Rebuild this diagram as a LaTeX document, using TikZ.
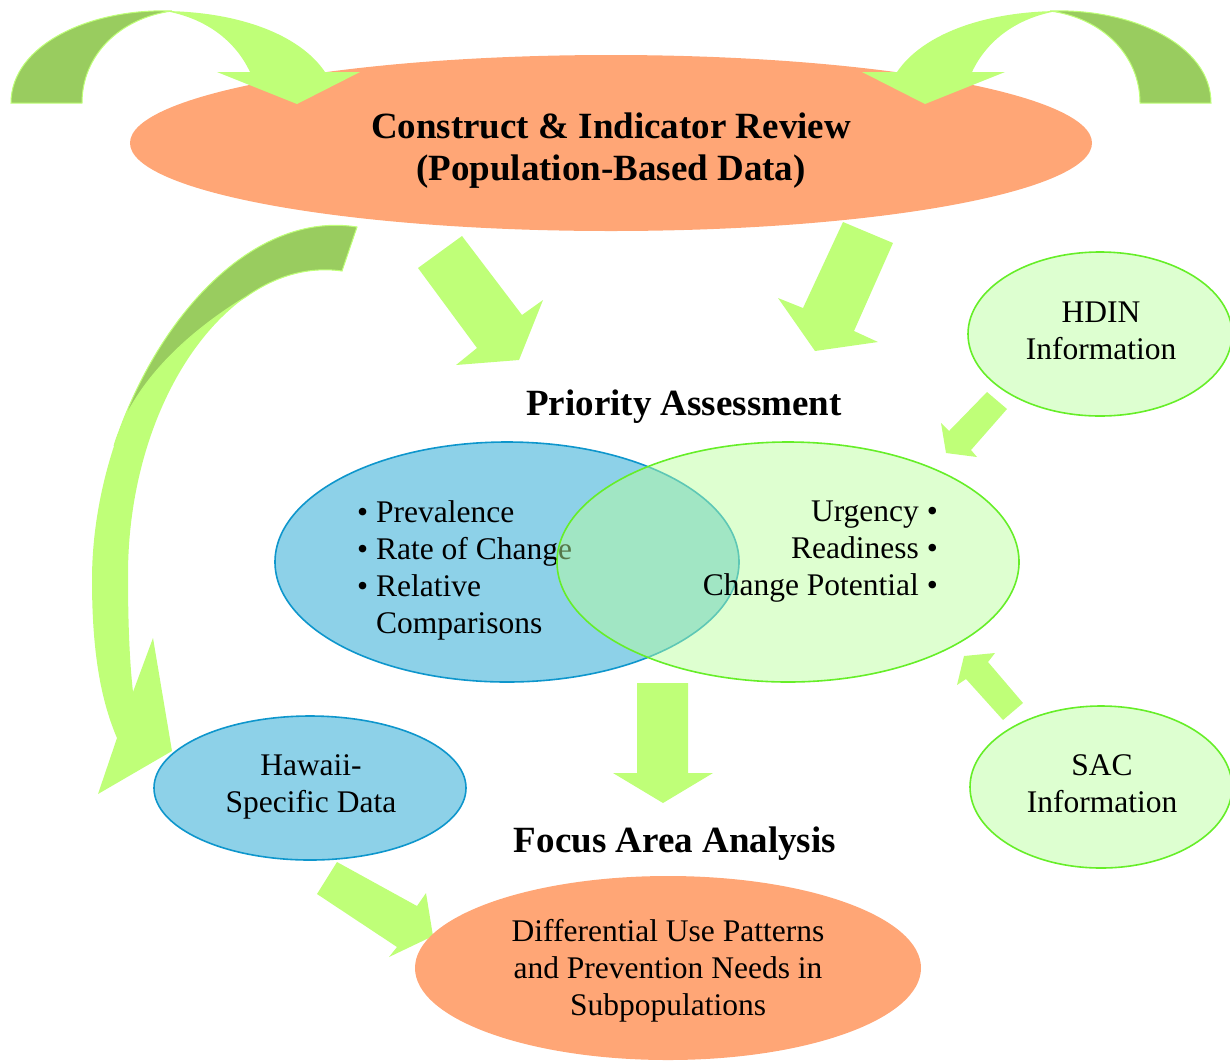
\documentclass[tikz,border=0pt]{standalone}
\usepackage{fontspec}
\setmainfont{Liberation Serif}
\usetikzlibrary{shapes.geometric}

\definecolor{peach}{RGB}{255,166,118}
\definecolor{leaf}{RGB}{191,255,120}
\definecolor{leafdark}{RGB}{153,204,95}
\definecolor{sky}{RGB}{141,209,232}
\definecolor{skyline}{RGB}{14,150,204}
\definecolor{mint}{RGB}{221,255,208}
\definecolor{mintfill}{RGB}{184,255,156}
\definecolor{mintline}{RGB}{102,238,40}

\begin{document}
\begin{tikzpicture}[x=1pt,y=-1pt,
  oval/.style={ellipse, inner sep=0pt, outer sep=0pt},
  peachoval/.style={oval, fill=peach},
  skyoval/.style={oval, fill=sky, draw=skyline, line width=1.6pt},
  mintoval/.style={oval, fill=mint, draw=mintline, line width=1.6pt},
  body/.style={font=\fontsize{31.5}{37}\selectfont, align=center, inner sep=0pt},
  headline/.style={font=\fontsize{37}{42}\selectfont\bfseries, align=center, inner sep=0pt},
  blockarrow/.style={fill=leaf},
  foldarrow/.style={fill=leafdark, draw=leaf, line width=1pt},
]
\useasboundingbox (0,0) rectangle (1230,1061);

% ---- top review ellipse
\node[peachoval, minimum width=962pt, minimum height=176pt] (review) at (611,143) {};

% ---- curved feedback arrow, upper left
\begin{scope}
  \fill[blockarrow] (165,11) .. controls (240,12) and (300,35) .. (325,72)
    -- (360,72) -- (297,104) -- (217,72) -- (250,72)
    .. controls (235,40) and (205,18) .. (165,11) -- cycle;
  \filldraw[foldarrow] (11,103) .. controls (11,45) and (90,8) .. (172,11)
    .. controls (120,18) and (82,55) .. (82,103) -- cycle;
\end{scope}
% ---- curved feedback arrow, upper right (mirror image)
\begin{scope}[shift={(1222,0)}, xscale=-1]
  \fill[blockarrow] (165,11) .. controls (240,12) and (300,35) .. (325,72)
    -- (360,72) -- (297,104) -- (217,72) -- (250,72)
    .. controls (235,40) and (205,18) .. (165,11) -- cycle;
  \filldraw[foldarrow] (11,103) .. controls (11,45) and (90,8) .. (172,11)
    .. controls (120,18) and (82,55) .. (82,103) -- cycle;
\end{scope}

\node[headline] (reviewtext) at (611,151) {Construct \& Indicator Review\\(Population-Based Data)};

% ---- straight arrows from the review down to the assessment
\fill[blockarrow] (418,268) -- (462,236) -- (522,315) -- (543,300) -- (519,360) -- (456,365) -- (477,348) -- cycle;
\fill[blockarrow] (843,222) -- (893,243) -- (854,331) -- (878,342) -- (815,351) -- (778,298) -- (803,308) -- cycle;

% ---- priority assessment
\node[headline] (priority) at (684,407) {Priority Assessment};

\node[skyoval, minimum width=464pt, minimum height=240pt] (measures) at (507,562) {};
\node[body, align=left, anchor=west] (measurelist) at (357,570)
  {\textbullet\ Prevalence\\\textbullet\ Rate of Change\\\textbullet\ Relative\\\hphantom{\textbullet\ }Comparisons};

\node[oval, fill=mintfill, fill opacity=0.47, draw=mintline, draw opacity=1, line width=1.6pt,
      minimum width=462pt, minimum height=240pt] (readiness) at (788,562) {};
\node[body, align=right, anchor=east] (readinesslist) at (938,552)
  {Urgency \textbullet\\Readiness \textbullet\\Change Potential \textbullet};

% ---- side information sources
\node[mintoval, minimum width=264pt, minimum height=164pt] (hdin) at (1100,334) {};
\node[body] (hdintext) at (1101,331) {HDIN\\Information};
\fill[blockarrow] (987,392) -- (1007,409) -- (971,450) -- (977,457) -- (946,453) -- (941,423) -- (949,431) -- cycle;

\node[mintoval, minimum width=262pt, minimum height=162pt] (sac) at (1101,787) {};
\node[body] (sactext) at (1102,784) {SAC\\Information};
\fill[blockarrow] (1023,703) -- (988,662) -- (995,653) -- (964,656) -- (957,685) -- (966,679) -- (1003,720) -- cycle;

% ---- down to focus area analysis
\fill[blockarrow] (637,683) -- (688,683) -- (688,773) -- (713,773) -- (663,803) -- (613,773) -- (637,773) -- cycle;
\node[headline] (focus) at (675,844) {Focus Area Analysis};

% ---- Hawaii-specific data
\node[skyoval, minimum width=312pt, minimum height=144pt] (hawaii) at (310,788) {};
\node[body] (hawaiitext) at (311,787) {Hawaii-\\Specific Data};

% ---- long curved arrow from the review to the Hawaii data
\fill[blockarrow] (357,227) .. controls (254,210.5) and (156.5,316) .. (114,446)
  .. controls (100,489) and (92,535) .. (92,580)
  .. controls (92,660) and (103,705) .. (117,738)
  -- (98,794) -- (172,751) -- (153,638) -- (133,692)
  .. controls (130,665) and (128,630) .. (128,575)
  .. controls (128,400) and (230,255) .. (342,271) -- cycle;
\filldraw[foldarrow] (357,227) .. controls (254,210.5) and (156.5,316) .. (114,446)
  .. controls (135,375) and (200,325) .. (246.4,296.5)
  .. controls (275.7,275.9) and (308.4,266.2) .. (342,271) -- cycle;

% ---- Hawaii data into the subpopulation analysis
\fill[blockarrow] (337,862) -- (417,906) -- (426,893) -- (433,936) -- (389,957) -- (397,947) -- (317,894) -- cycle;

\node[peachoval, minimum width=506pt, minimum height=184pt] (subpop) at (668,968) {};
\node[body] (subpoptext) at (668,971) {Differential Use Patterns\\and Prevention Needs in\\Subpopulations};

\end{tikzpicture}
\end{document}
